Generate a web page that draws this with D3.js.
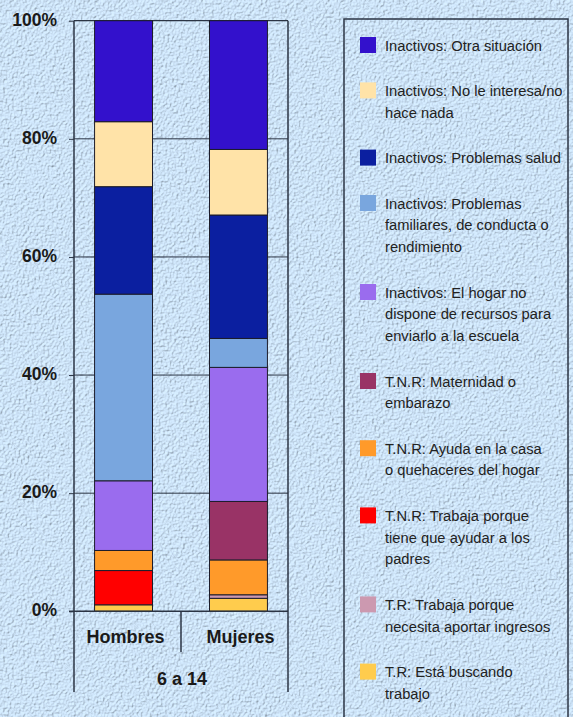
<!DOCTYPE html>
<html>
<head>
<meta charset="utf-8">
<script src="https://cdn.jsdelivr.net/npm/d3@7"></script>
<style>
  html, body { margin: 0; padding: 0; background: #c8def2; }
  svg { display: block; }
  text { font-family: "Liberation Sans", Arial, sans-serif; }
</style>
</head>
<body>
<div id="chart"></div>
<script>
// categories and stacked series, bottom to top
var groups = ["Hombres", "Mujeres"];
var keys = ["buscando", "aportar", "padres", "ayuda", "maternidad", "hogar", "familiares", "salud", "nointeresa", "otra"];
var hombres = [1.1, 0, 5.8, 3.4, 0, 11.8, 31.6, 18.2, 11.0, 17.1];
var mujeres = [2.2, 0.6, 0, 5.9, 9.9, 22.7, 4.9, 20.9, 11.1, 21.8];
var colors = ["#ffcc4d", "#cc99b0", "#ff0000", "#ff9a2a", "#993366", "#9a6cee", "#79a6de", "#0b1fa0", "#ffe3a8", "#3311cc"];
var legendLabels = [
  ["T.R: Está buscando", "trabajo"],
  ["T.R: Trabaja porque", "necesita aportar ingresos"],
  ["T.N.R: Trabaja porque", "tiene que ayudar a los", "padres"],
  ["T.N.R:  Ayuda en la casa", "o quehaceres del hogar"],
  ["T.N.R: Maternidad o", "embarazo"],
  ["Inactivos: El hogar no", "dispone de recursos para", "enviarlo a la escuela"],
  ["Inactivos: Problemas", "familiares, de conducta o", "rendimiento"],
  ["Inactivos: Problemas salud"],
  ["Inactivos: No le interesa/no", "hace nada"],
  ["Inactivos: Otra situación"]
];
var yTicks = [0, 20, 40, 60, 80, 100];
var groupLabel = "6 a 14";

var width = 573, height = 717;
var svg = d3.select("#chart").append("svg").attr("width", width).attr("height", height);

// textured paper background
var defs = svg.append("defs");
var f = defs.append("filter").attr("id", "tex").attr("x", 0).attr("y", 0).attr("width", 1).attr("height", 1);
f.append("feTurbulence").attr("type", "fractalNoise").attr("baseFrequency", 0.45).attr("numOctaves", 2).attr("seed", 3).attr("result", "noise");
f.append("feDiffuseLighting").attr("in", "noise").attr("surfaceScale", 1.6).attr("lighting-color", "#ffffff").attr("result", "light")
  .append("feDistantLight").attr("azimuth", 225).attr("elevation", 60);
f.append("feFlood").attr("flood-color", "#d2e9fe").attr("result", "tint");
f.append("feComposite").attr("in", "light").attr("in2", "tint").attr("operator", "arithmetic")
  .attr("k1", 1.1).attr("k2", 0).attr("k3", 0).attr("k4", 0);
svg.append("rect").attr("width", width).attr("height", height).attr("fill", "#c8def2");
svg.append("rect").attr("width", width).attr("height", height).attr("filter", "url(#tex)");

var plotLeft = 74, plotRight = 288, plotTop = 20.7, plotBottom = 611.3;
var x = d3.scaleBand().domain(groups).range([plotLeft, plotRight]).paddingInner(0.496).paddingOuter(0.179);
var y = d3.scaleLinear().domain([0, 100]).range([plotBottom, plotTop]);

var rows = groups.map(function (g, i) {
  var vals = i === 0 ? hombres : mujeres;
  var row = { group: g };
  keys.forEach(function (k, j) { row[k] = vals[j]; });
  return row;
});
var series = d3.stack().keys(keys)(rows);

var axisColor = "#2b3444";

// gridlines
svg.append("g").selectAll("line").data(yTicks.filter(function (t) { return t > 0 && t < 100; }))
  .enter().append("line")
  .attr("x1", plotLeft).attr("x2", plotRight)
  .attr("y1", function (d) { return y(d); }).attr("y2", function (d) { return y(d); })
  .attr("stroke", axisColor).attr("stroke-width", 1);
svg.append("line").attr("x1", plotLeft).attr("x2", plotRight).attr("y1", y(100)).attr("y2", y(100))
  .attr("stroke", axisColor).attr("stroke-width", 1.2);

// bars
svg.append("g").selectAll("g").data(series).enter().append("g")
  .attr("fill", function (d, i) { return colors[i]; })
  .selectAll("rect").data(function (d) { return d; }).enter()
  .filter(function (d) { return d[1] - d[0] > 0; })
  .append("rect")
  .attr("x", function (d) { return x(d.data.group); })
  .attr("width", x.bandwidth())
  .attr("y", function (d) { return y(d[1]); })
  .attr("height", function (d) { return y(d[0]) - y(d[1]); })
  .attr("stroke", "#1c1c2a").attr("stroke-width", 1);

// y axis
var yAxis = d3.axisLeft(y).tickValues(yTicks).tickSize(5).tickPadding(12)
  .tickFormat(function (d) { return d + "%"; });
var ya = svg.append("g").attr("transform", "translate(" + plotLeft + ",0)").call(yAxis);
ya.select(".domain").remove();
ya.selectAll(".tick line").attr("stroke", axisColor);
ya.selectAll(".tick text").attr("font-size", 17.5).attr("font-weight", "bold").attr("fill", "#1a1a1a")
  .attr("dy", "0.25em")
  .attr("font-family", "'Liberation Sans', Arial, sans-serif");

// frame lines
svg.append("line").attr("x1", plotLeft).attr("x2", plotLeft).attr("y1", plotTop).attr("y2", 692).attr("stroke", axisColor).attr("stroke-width", 1.5);
svg.append("line").attr("x1", plotRight).attr("x2", plotRight).attr("y1", plotTop).attr("y2", 692).attr("stroke", axisColor).attr("stroke-width", 1.5);
svg.append("line").attr("x1", plotLeft - 5).attr("x2", plotRight).attr("y1", plotBottom).attr("y2", plotBottom).attr("stroke", axisColor).attr("stroke-width", 1.5);
svg.append("line").attr("x1", (plotLeft + plotRight) / 2).attr("x2", (plotLeft + plotRight) / 2).attr("y1", plotBottom).attr("y2", 652).attr("stroke", axisColor).attr("stroke-width", 1.5);

// category labels
svg.append("g").selectAll("text").data(groups).enter().append("text")
  .attr("x", function (d) { return x(d) + x.bandwidth() / 2 + 2; })
  .attr("y", 643)
  .attr("text-anchor", "middle").attr("font-size", 18).attr("font-weight", "bold").attr("fill", "#1a1a1a")
  .text(function (d) { return d; });
svg.append("text").attr("x", (plotLeft + plotRight) / 2 + 1).attr("y", 684.5)
  .attr("text-anchor", "middle").attr("font-size", 18).attr("font-weight", "bold").attr("fill", "#1a1a1a")
  .text(groupLabel);

// legend box
svg.append("rect").attr("x", 344).attr("y", 19).attr("width", 224).attr("height", 710)
  .attr("fill", "none").attr("stroke", axisColor).attr("stroke-width", 1.5);

var lineH = 21.8, gap = 23.6;
var legendItems = legendLabels.map(function (l, i) { return { lines: l, color: colors[i] }; }).reverse();
var cy = 45;
legendItems.forEach(function (it) {
  it.y = cy;
  cy += it.lines.length * lineH + gap;
});
var lg = svg.append("g").selectAll("g").data(legendItems).enter().append("g")
  .attr("transform", function (d) { return "translate(0," + d.y + ")"; });
lg.append("rect").attr("x", 360).attr("y", -8).attr("width", 16).attr("height", 16)
  .attr("fill", function (d) { return d.color; });
lg.append("text").attr("transform", "translate(385,5.5) scale(0.95,1)").attr("font-size", 15.5).attr("fill", "#222")
  .selectAll("tspan").data(function (d) { return d.lines; }).enter().append("tspan")
  .attr("x", 0).attr("dy", function (d, i) { return i === 0 ? 0 : lineH; })
  .text(function (d) { return d; });
</script>
</body>
</html>
